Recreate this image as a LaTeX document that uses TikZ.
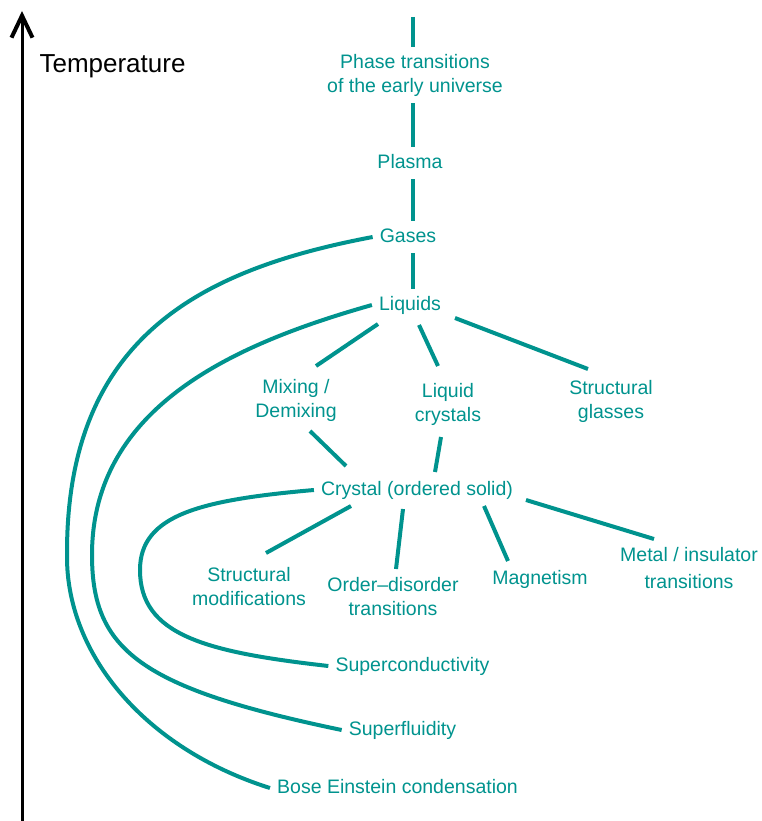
\documentclass[tikz,border=0pt]{standalone}
\usepackage{fontspec}
\setmainfont{Liberation Sans}
\usetikzlibrary{arrows.meta}
\definecolor{phasecol}{RGB}{0,147,142}

\begin{document}
\begin{tikzpicture}[x=1pt, y=-1pt,
        main/.style = {text=phasecol, inner sep=7pt, align=center, font=\fontsize{19.5pt}{24pt}\selectfont},
        one/.style = {main, text height=14pt, text depth=4pt, anchor=base},
        link/.style = {draw=phasecol, line width=4pt}]
        \useasboundingbox (0,0) rectangle (761,821);

        % temperature axis
        \coordinate (axbot) at (22,821);
        \coordinate (axtop) at (22,11);
        \draw [line width=3pt, -{Straight Barb[length=22pt, width=21pt, line width=4pt]}] (axbot) -- (axtop);
        \node[anchor=base, inner sep=0pt, font=\fontsize{26pt}{30pt}\selectfont] at (112.5,73) (temp) {Temperature};

        % phases
        \coordinate (top) at (413,17);
        \node[main] at (415,75) (ph) {Phase transitions\\of the early universe};
        \node[one] at (410,168) (pl) {Plasma};
        \node[one] at (408,242) (gas) {Gases};
        \node[one] at (410,310) (liq) {Liquids};
        \node[main] at (296,400.5) (mix) {Mixing /\\Demixing};
        \node[main] at (448,404.5) (lc) {Liquid\\crystals};
        \node[main] at (611,401.5) (sg) {Structural\\glasses};
        \node[one] at (417,495) (cry) {Crystal (ordered solid)};
        \node[main] at (249,587) (sm) {Structural\\modifications};
        \node[main] at (393,597) (od) {Order--disorder\\transitions};
        \node[one] at (540,584) (mag) {Magnetism};
        \node[main] at (689,568.5) (mi) {Metal / insulator\\[3pt]transitions};
        \node[one] at (412.5,671) (sc) {Superconductivity};
        \node[one] at (402.5,735) (sf) {Superfluidity};
        \node[one] at (397.5,793) (bec) {Bose Einstein condensation};

        \draw [link] (top) -- (ph.north -| top);
        \draw [link] (ph.south -| top) -- (pl.north -| top);
        \draw [link] (pl.south -| top) -- (gas.north -| top);
        \draw [link] (gas.south -| top) -- (liq.north -| top);

        \draw [link] ([shift={(-32,19)}]liq.center) -- ([shift={(20,-34.5)}]mix.center);
        \draw [link] ([shift={(9,20)}]liq.center) -- ([shift={(-10,-38.5)}]lc.center);
        \draw [link] ([shift={(45,13)}]liq.center) -- ([shift={(-23,-32.5)}]sg.center);
        \draw [link] ([shift={(14,30.5)}]mix.center) -- ([shift={(-71,-24)}]cry.center);
        \draw [link] ([shift={(-7,32.5)}]lc.center) -- ([shift={(18,-18)}]cry.center);

        \draw [link] ([shift={(-66,16)}]cry.center) -- ([shift={(17,-34)}]sm.center);
        \draw [link] ([shift={(-14,19)}]cry.center) -- ([shift={(3,-28)}]od.center);
        \draw [link] ([shift={(67,16)}]cry.center) -- ([shift={(-32,-18)}]mag.center);
        \draw [link] ([shift={(109,10)}]cry.center) -- ([shift={(-35,-29.5)}]mi.center);

        % low temperature branches
        \draw [link] (gas.west) .. controls (204,269) and (66,335) .. (67,555)
                .. controls (66,655) and (146,749) .. (bec.west);
        \draw [link] (liq.west) .. controls (238,343) and (92,405) .. (92,555)
                .. controls (92,650) and (140,688) .. (sf.west);
        \draw [link] (cry.west) .. controls (200,500) and (140,515) .. (140,570)
                .. controls (140,635) and (205,652) .. (sc.west);
\end{tikzpicture}
\end{document}
